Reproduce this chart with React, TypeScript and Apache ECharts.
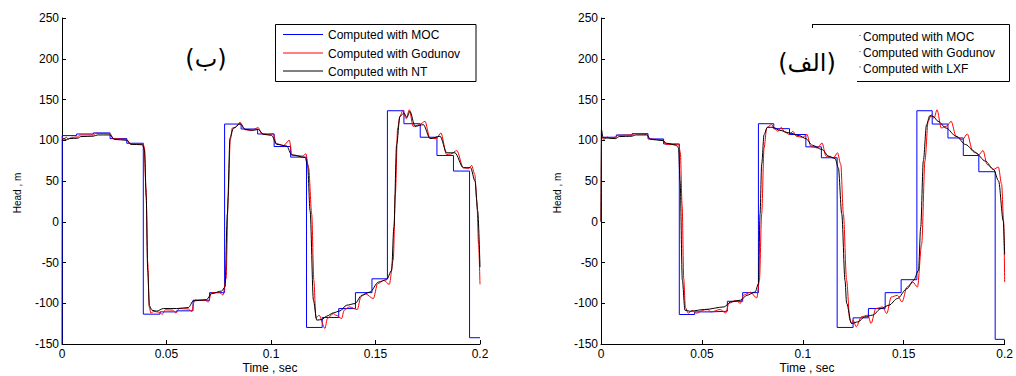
import React, { useEffect, useRef } from "react";
import * as echarts from "echarts";

// ---------- data ----------
const X_MIN = 0;
const X_MAX = 0.2;
const X_STEP = 0.05;
const Y_MIN = -150;
const Y_MAX = 250;
const Y_STEP = 50;

const LEGEND_LEFT = ["Computed with MOC", "Computed with Godunov", "Computed with NT"];
const LEGEND_RIGHT = ["Computed with MOC", "Computed with Godunov", "Computed with LXF"];
const PANEL_LABELS = ["(ب)", "(الف)"];
const X_NAME = "Time , sec";
const Y_NAME = "Head , m";

// [time (s), head (m)]
const LEFT_MOC = [
  [0, -150], [0.0001, 105.7], [0.007, 105.7], [0.007, 107.7], [0.015, 107.7], [0.015, 109], [0.023, 109],
  [0.023, 102], [0.031, 102], [0.031, 96.3], [0.0389, 96.3], [0.0389, -113.4], [0.0469, -113.4],
  [0.0469, -110.6], [0.0548, -110.6], [0.0548, -109.3], [0.0627, -109.3], [0.0627, -96.3], [0.0706, -96.3],
  [0.0706, -87], [0.0778, -87], [0.0778, 119.9], [0.0857, 119.9], [0.0857, 113.8], [0.0936, 113.8],
  [0.0936, 107.7], [0.1015, 107.7], [0.1015, 92.3], [0.1094, 92.3], [0.1094, 79.3], [0.117, 79.3],
  [0.117, -129.7], [0.1245, -129.7], [0.1245, -117.5], [0.1324, -117.5], [0.1324, -106.5], [0.1404, -106.5],
  [0.1404, -87], [0.1483, -87], [0.1483, -70], [0.1557, -70], [0.1557, 136.2], [0.1636, 136.2],
  [0.1636, 120.3], [0.1714, 120.3], [0.1714, 103.7], [0.1794, 103.7], [0.1794, 81.3], [0.1873, 81.3],
  [0.1873, 62.2], [0.195, 62.2], [0.195, -142.3], [0.2, -142.3],
];

const LEFT_GODUNOV = [
  [0, 104], [0.001, 100.5], [0.002, 104], [0.003, 101.5], [0.0045, 103.5], [0.0075, 104],
  [0.0085, 106.5], [0.015, 106.5], [0.0162, 108.5], [0.023, 108], [0.0245, 102], [0.031, 101], [0.0325, 95.5],
  [0.038, 95.5], [0.0393, 93], [0.0402, 40], [0.041, -50], [0.0418, -105], [0.0425, -112], [0.044, -110],
  [0.0465, -111], [0.048, -113.5], [0.0495, -108], [0.053, -108.5], [0.0545, -112], [0.056, -106.5],
  [0.0605, -107], [0.062, -110], [0.0635, -96], [0.0685, -96.5], [0.07, -98.5], [0.0715, -87], [0.0755, -87],
  [0.077, -90], [0.0785, -70], [0.0795, 30], [0.0805, 100], [0.0815, 115], [0.083, 116], [0.0852, 122],
  [0.0875, 113], [0.0905, 112], [0.0939, 115.5], [0.0955, 108], [0.0985, 107], [0.1011, 108], [0.1025, 96],
  [0.106, 93.5], [0.1088, 100], [0.11, 82], [0.115, 80.5], [0.1167, 83.3], [0.118, 66], [0.1195, 9],
  [0.1205, -72], [0.1215, -118], [0.123, -114.6], [0.1258, -130.9], [0.127, -118.7], [0.1298, -112.6],
  [0.131, -114.6], [0.1338, -118.7], [0.135, -108.5], [0.1375, -104.5], [0.1413, -107.7], [0.143, -92.3],
  [0.145, -88.2], [0.149, -94.3], [0.151, -76], [0.154, -72], [0.1566, -76.8], [0.1585, -47], [0.1595, 34],
  [0.1606, 115], [0.1617, 129.3], [0.163, 136.2], [0.1647, 126.4], [0.1662, 137.4], [0.168, 117], [0.171, 119],
  [0.1737, 123.2], [0.176, 102.8], [0.179, 102], [0.1813, 108.9], [0.184, 82.5], [0.186, 83], [0.1889, 87.4],
  [0.192, 66.3], [0.1945, 65.5], [0.196, 69.1], [0.1975, 58], [0.1985, 25.6], [0.1993, -27], [0.2, -76.8],
];

const LEFT_NT = [
  [0, 100], [0.001, 102.5], [0.002, 100.5], [0.0035, 102], [0.0075, 102.5], [0.009, 104.5], [0.015, 105],
  [0.017, 106.5], [0.023, 106.5], [0.025, 101], [0.031, 100], [0.033, 95], [0.0385, 94.5], [0.0395, 88],
  [0.0403, 30], [0.041, -60], [0.0418, -103], [0.043, -108.5], [0.0453, -109.7], [0.0485, -106.5],
  [0.0549, -106.5], [0.0605, -105.3], [0.0628, -97.2], [0.0692, -95.5], [0.0716, -88.2], [0.0764, -85],
  [0.078, -80], [0.0791, 9.4], [0.0804, 103], [0.082, 114.6], [0.0852, 120.3], [0.0876, 113.4],
  [0.0915, 112.2], [0.0939, 113.4], [0.0963, 107.3], [0.1003, 106], [0.1027, 95], [0.1075, 93],
  [0.1099, 82], [0.1163, 78.9], [0.1175, 70], [0.1187, 13.4], [0.1203, -96.3], [0.1219, -120.7],
  [0.1243, -120], [0.1266, -115.9], [0.1298, -111.8], [0.133, -109.4], [0.1362, -102.4], [0.1402, -100.4],
  [0.1434, -90.3], [0.1474, -86.2], [0.1514, -74], [0.1553, -71.1], [0.1577, -59.8], [0.1588, -7],
  [0.1601, 94.7], [0.1617, 129.3], [0.1636, 133.4], [0.165, 128], [0.1665, 135.4], [0.1689, 117.1],
  [0.1729, 119.1], [0.1761, 102], [0.1809, 104.9], [0.1841, 84.6], [0.188, 84.6], [0.192, 66.3],
  [0.1955, 66.3], [0.1976, 50], [0.1989, 13.4], [0.2, -55.7],
];

const RIGHT_MOC = [
  [0, 103.7], [0.0076, 103.7], [0.0076, 106.5], [0.0154, 106.5], [0.0154, 108.1], [0.0233, 108.1],
  [0.0233, 101.6], [0.031, 101.6], [0.031, 95.5], [0.0388, 95.5], [0.0388, -113.8], [0.0464, -113.8],
  [0.0464, -110.6], [0.0545, -110.6], [0.0545, -109.8], [0.0626, -109.8], [0.0626, -97.6], [0.0702, -97.6],
  [0.0702, -87], [0.078, -87], [0.078, 120.3], [0.0856, 120.3], [0.0856, 114.2], [0.0934, 114.2],
  [0.0934, 107], [0.1015, 107], [0.1015, 91.9], [0.1092, 91.9], [0.1092, 78.5], [0.1170, 78.5],
  [0.1170, -129.7], [0.1249, -129.7], [0.1249, -117.9], [0.1325, -117.9], [0.1325, -106.5], [0.1408, -106.5],
  [0.1408, -87], [0.1487, -87], [0.1487, -71.1], [0.1565, -71.1], [0.1565, 136.2], [0.1641, 136.2],
  [0.1641, 119.9], [0.1719, 119.9], [0.1719, 102.8], [0.1795, 102.8], [0.1795, 81.3], [0.1872, 81.3],
  [0.1872, 61.4], [0.1953, 61.4], [0.1953, -144.3], [0.2, -144.3],
];

const RIGHT_GODUNOV = [
  [0, 0], [0.0003, 103], [0.0015, 101], [0.003, 104], [0.0045, 102.5], [0.0073, 104], [0.0085, 106],
  [0.0154, 106.5], [0.0165, 108], [0.0227, 107.5], [0.024, 101.5], [0.0307, 100.5], [0.032, 95],
  [0.0385, 94.5], [0.0393, 85], [0.0402, 20], [0.041, -70], [0.0418, -105], [0.0432, -112.2],
  [0.0452, -109], [0.0473, -112.2], [0.0513, -108], [0.053, -107.7], [0.0545, -110.6], [0.059, -107.7],
  [0.0618, -112], [0.0634, -100], [0.0667, -96.5], [0.0691, -100], [0.0707, -90], [0.074, -86.5],
  [0.0772, -93.5], [0.0785, -72], [0.0796, 9.4], [0.0808, 90.6], [0.0821, 115], [0.0845, 119.5],
  [0.0861, 113.4], [0.0877, 111], [0.0893, 115.9], [0.091, 110], [0.0934, 107], [0.0951, 111],
  [0.0967, 105], [0.1, 103.5], [0.102, 107.3], [0.104, 92.3], [0.1072, 90.5], [0.1095, 96.7],
  [0.1115, 80.5], [0.1152, 78.5], [0.1172, 84.6], [0.1188, 70.3], [0.1201, 9.4], [0.1217, -72],
  [0.1233, -120.7], [0.1241, -124.8], [0.1249, -120.7], [0.1265, -128.9], [0.129, -116.7], [0.1322, -114.6],
  [0.1338, -124.8], [0.1362, -106.5], [0.1395, -104.5], [0.1416, -112.6], [0.1438, -92.3], [0.1468, -90.3],
  [0.1492, -98.4], [0.1516, -80.1], [0.1545, -74], [0.1568, -80.1], [0.1589, -27.2], [0.1605, 74.4],
  [0.1621, 123.2], [0.1637, 131.3], [0.165, 127], [0.1665, 137.4], [0.1686, 115], [0.171, 117],
  [0.1735, 123.2], [0.1759, 104.9], [0.1791, 100.8], [0.1815, 107.7], [0.184, 88.2], [0.1872, 82.1],
  [0.1893, 87.4], [0.1913, 70.3], [0.1945, 64.2], [0.1969, 67.1], [0.1985, 46], [0.1995, 0], [0.2, -74],
];

const RIGHT_LXF = [
  [0, 0], [0.0002, 113.4], [0.001, 103], [0.0073, 102], [0.009, 104.5], [0.0154, 105], [0.017, 106.5],
  [0.0227, 106.5], [0.0245, 101.2], [0.0307, 99.5], [0.0325, 96.3], [0.0372, 94], [0.0384, 90.6],
  [0.0392, 50], [0.0403, -71.5], [0.0416, -108.5], [0.044, -109.8], [0.0513, -107.7], [0.061, -104.5],
  [0.0642, -98.4], [0.0691, -96.3], [0.0723, -90.2], [0.0764, -86.2], [0.078, -76], [0.0788, 9.4],
  [0.0796, 70.3], [0.0808, 107], [0.0824, 115.9], [0.0853, 115.9], [0.0885, 112.2], [0.0934, 109],
  [0.0982, 105.7], [0.1015, 102], [0.1047, 93.9], [0.1095, 88.6], [0.1128, 80.5], [0.116, 77.6],
  [0.1176, 66.2], [0.1193, 9.4], [0.1209, -72], [0.1217, -100], [0.1241, -124.8], [0.1274, -122.8],
  [0.1306, -116.7], [0.1346, -114.6], [0.1387, -106.5], [0.1427, -102.4], [0.1468, -94.3], [0.1516, -82.1],
  [0.1549, -72], [0.1573, -59.8], [0.1584, -7], [0.1597, 74.4], [0.1613, 119.1], [0.1629, 130.1],
  [0.1646, 129.3], [0.167, 123.2], [0.171, 115], [0.1759, 104.9], [0.1807, 94.7], [0.1856, 84.6],
  [0.1904, 74.4], [0.1945, 64.2], [0.197, 50], [0.1993, 1.2], [0.2, -40],
];

const COLORS = ["#0000ff", "#ff0000", "#000000"];
const FONT = "'Liberation Sans', Arial, Helvetica, sans-serif";

function fmtX(v: number) {
  return String(parseFloat(Number(v).toFixed(3)));
}

export default function App() {
  const ref = useRef<HTMLDivElement>(null);

  useEffect(() => {
    if (!ref.current) return;
    const chart = echarts.init(ref.current, null, { renderer: "svg" });

    const grids = [
      { left: 62, top: 18, width: 418, height: 326 },
      { left: 601, top: 18, width: 412, height: 326 },
    ];

    const xAxes = [0, 1].map((i) => ({
      type: "value",
      gridIndex: i,
      min: X_MIN,
      max: X_MAX,
      interval: X_STEP,
      axisLine: { show: true, onZero: false, lineStyle: { color: "#000", width: 1 } },
      axisTick: { show: true, inside: true, length: 4, lineStyle: { color: "#000" } },
      axisLabel: { color: "#000", fontSize: 12, fontFamily: FONT, margin: 4, formatter: fmtX },
      splitLine: { show: false },
    }));

    const yAxes = [0, 1].map((i) => ({
      type: "value",
      gridIndex: i,
      min: Y_MIN,
      max: Y_MAX,
      interval: Y_STEP,
      axisLine: { show: true, onZero: false, lineStyle: { color: "#000", width: 1 } },
      axisTick: { show: true, inside: true, length: 4, lineStyle: { color: "#000" } },
      axisLabel: { color: "#000", fontSize: 12, fontFamily: FONT, margin: 3 },
      splitLine: { show: false },
    }));

    const mk = (name: string, data: number[][], idx: number, color: string, smooth: boolean) => ({
      type: "line",
      name,
      data,
      xAxisIndex: idx,
      yAxisIndex: idx,
      showSymbol: false,
      symbol: "none",
      smooth: smooth ? 0.3 : false,
      smoothMonotone: smooth ? "x" : undefined,
      lineStyle: { color, width: 1 },
      itemStyle: { color },
      silent: true,
    });

    const series = [
      mk(LEGEND_LEFT[0], LEFT_MOC, 0, COLORS[0], false),
      mk(LEGEND_LEFT[1], LEFT_GODUNOV, 0, COLORS[1], true),
      mk(LEGEND_LEFT[2], LEFT_NT, 0, COLORS[2], true),
      mk(LEGEND_RIGHT[0], RIGHT_MOC, 1, COLORS[0], false),
      mk(LEGEND_RIGHT[1], RIGHT_GODUNOV, 1, COLORS[1], true),
      mk(LEGEND_RIGHT[2], RIGHT_LXF, 1, COLORS[2], true),
    ];

    const txt = (x: number, y: number, text: string, extra: any = {}, rotation = 0) => ({
      type: "text",
      x,
      y,
      rotation,
      z: 100,
      style: {
        text,
        fill: "#000",
        fontSize: 12,
        fontFamily: FONT,
        align: "left",
        verticalAlign: "middle",
        ...extra,
      },
    });

    const leftRows = [35, 53.5, 71.5];
    const rightRows = [37, 53, 68.5];

    const graphic: any[] = [
      // axis names
      txt(17, 193, Y_NAME, { align: "center", fontSize: 10 }, Math.PI / 2),
      txt(557, 193, Y_NAME, { align: "center", fontSize: 10 }, Math.PI / 2),
      txt(270, 368, X_NAME, { align: "center", fontSize: 12 }),
      txt(807, 368, X_NAME, { align: "center", fontSize: 12 }),
      // panel labels
      txt(206, 59, PANEL_LABELS[0], { align: "center", fontSize: 24, fontFamily: "'DejaVu Sans', sans-serif" }),
      txt(807, 63, PANEL_LABELS[1], { align: "center", fontSize: 24, fontFamily: "'DejaVu Sans', sans-serif" }),
      // left legend
      {
        type: "rect",
        z: 99,
        shape: { x: 275.5, y: 24.5, width: 200.5, height: 57 },
        style: { fill: "#fff", stroke: "#000", lineWidth: 1 },
      },
      ...LEGEND_LEFT.map((_, i) => ({
        type: "line",
        z: 100,
        shape: { x1: 283, y1: leftRows[i] - 0.5, x2: 323, y2: leftRows[i] - 0.5 },
        style: { stroke: COLORS[i], lineWidth: 1 },
      })),
      ...LEGEND_LEFT.map((t, i) => txt(328, leftRows[i], t)),
      // right legend (partial frame)
      {
        type: "rect",
        z: 98,
        shape: { x: 812, y: 24, width: 197, height: 57 },
        style: { fill: "#fff", stroke: null },
      },
      { type: "line", z: 100, shape: { x1: 812, y1: 24.5, x2: 1009.5, y2: 24.5 }, style: { stroke: "#000", lineWidth: 1 } },
      { type: "line", z: 100, shape: { x1: 1009.5, y1: 24.5, x2: 1009.5, y2: 81.5 }, style: { stroke: "#000", lineWidth: 1 } },
      { type: "line", z: 100, shape: { x1: 857, y1: 81.5, x2: 1009.5, y2: 81.5 }, style: { stroke: "#000", lineWidth: 1 } },
      { type: "line", z: 100, shape: { x1: 812.5, y1: 24.5, x2: 812.5, y2: 28 }, style: { stroke: "#000", lineWidth: 1 } },
      ...LEGEND_RIGHT.map((_, i) => ({
        type: "rect",
        z: 100,
        shape: { x: 859.5, y: rightRows[i] - 2, width: 1, height: 1 },
        style: { fill: COLORS[i] },
      })),
      ...LEGEND_RIGHT.map((t, i) => txt(863, rightRows[i], t)),
    ];

    chart.setOption({
      animation: false,
      backgroundColor: "#fff",
      grid: grids,
      xAxis: xAxes,
      yAxis: yAxes,
      series,
      graphic,
    } as any);

    return () => chart.dispose();
  }, []);

  return (
    <div
      ref={ref}
      style={{ position: "absolute", left: 0, top: 0, width: 1016, height: 376, background: "#fff" }}
    />
  );
}
